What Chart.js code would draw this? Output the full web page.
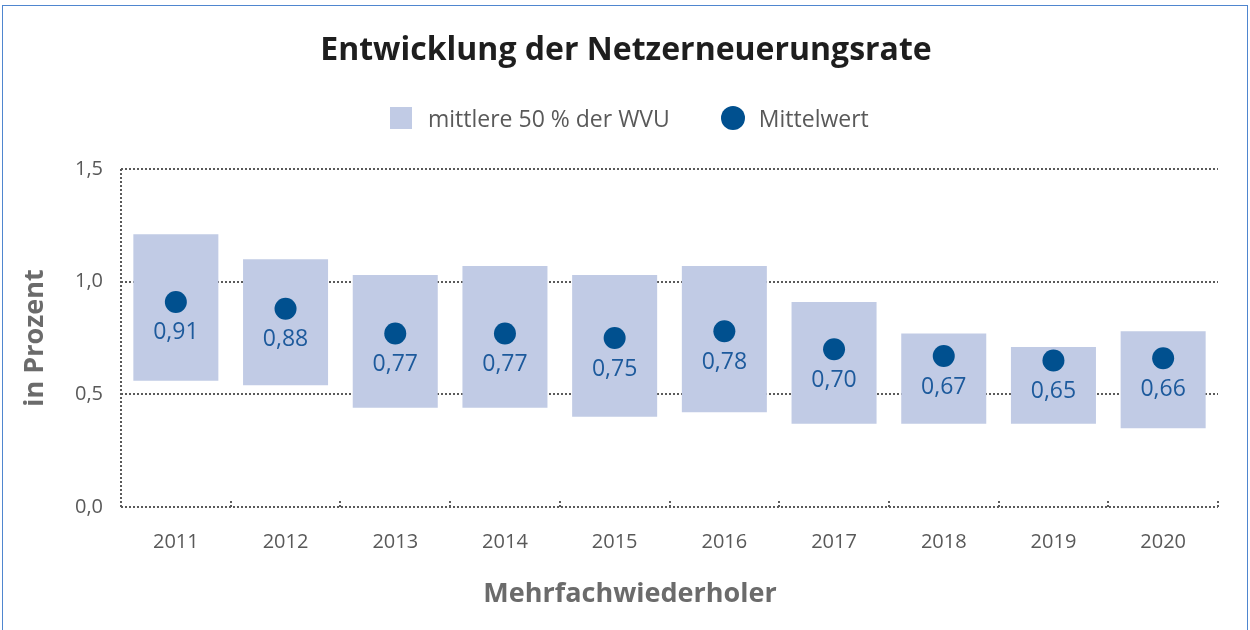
<!DOCTYPE html>
<html lang="de">
<head>
<meta charset="utf-8">
<title>Entwicklung der Netzerneuerungsrate</title>
<script src="https://cdn.jsdelivr.net/npm/chart.js@4/dist/chart.umd.min.js"></script>
<style>
  html, body { margin: 0; padding: 0; background: #fff; }
  #wrap { position: relative; width: 1250px; height: 630px; overflow: hidden; font-family: "Open Sans", sans-serif; }
  #frame { position: absolute; left: 2px; top: 5px; width: 1246px; height: 700px; border: 1px solid #4f86cf; box-sizing: border-box; pointer-events: none; }
  #title { position: absolute; left: 0; top: 28px; width: 1252px; line-height: 40px; text-align: center; font-size: 32px; font-weight: bold; color: #1e1e1e; }
  #xtitle { position: absolute; left: 0; top: 575px; width: 1260px; line-height: 34px; text-align: center; font-size: 27px; font-weight: bold; color: #6b6b6b; }
  #legend { position: absolute; left: 390px; top: 103px; height: 30px; line-height: 30px; display: flex; align-items: center; font-size: 23px; color: #595959; }
  #legend .box { width: 22px; height: 22px; background: #c1cbe5; margin-right: 16px; }
  #legend .dot { width: 24px; height: 24px; border-radius: 50%; background: #00508f; margin-left: 51px; margin-right: 14px; }
</style>
</head>
<body>
<div id="wrap">
  <canvas id="chart" width="1250" height="630"></canvas>
  <div id="title">Entwicklung der Netzerneuerungsrate</div>
  <div id="legend">
    <span class="box"></span><span class="lbl">mittlere 50 % der WVU</span>
    <span class="dot"></span><span class="lbl">Mittelwert</span>
  </div>
  <div id="xtitle">Mehrfachwiederholer</div>
  <div id="frame"></div>
</div>
<script>
const years = ["2011", "2012", "2013", "2014", "2015", "2016", "2017", "2018", "2019", "2020"];
// untere / obere Grenze der mittleren 50 %
const lower = [0.56, 0.54, 0.44, 0.44, 0.40, 0.42, 0.37, 0.37, 0.37, 0.35];
const upper = [1.21, 1.10, 1.03, 1.07, 1.03, 1.07, 0.91, 0.77, 0.71, 0.78];
const means = [0.91, 0.88, 0.77, 0.77, 0.75, 0.78, 0.70, 0.67, 0.65, 0.66];

const gridGray = "#5a5a5a";
const dotDash = [2, 2];

const fmt = (v) => v.toFixed(2).replace(".", ",");

// Werte unter den Punkten
const meanLabels = {
  id: "meanLabels",
  afterDatasetsDraw(chart) {
    const ctx = chart.ctx;
    const meta = chart.getDatasetMeta(1);
    ctx.save();
    ctx.font = '23px "Open Sans"';
    ctx.fillStyle = "#1d5a9c";
    ctx.textAlign = "center";
    ctx.textBaseline = "middle";
    meta.data.forEach((pt, i) => {
      ctx.fillText(fmt(means[i]), pt.x, pt.y + 31);
    });
    ctx.restore();
  },
};

// kleine Trennstriche zwischen den Jahren + gepunktete y-Achse
const axisMarks = {
  id: "axisMarks",
  afterDraw(chart) {
    const ctx = chart.ctx;
    const x = chart.scales.x;
    const area = chart.chartArea;
    ctx.save();
    ctx.strokeStyle = gridGray;
    ctx.lineWidth = 2;
    ctx.setLineDash(dotDash);
    for (let i = 1; i <= years.length; i++) {
      const px = Math.round(x.getPixelForValue(i - 0.5));
      ctx.beginPath();
      ctx.moveTo(px, area.bottom);
      ctx.lineTo(px, area.bottom - 7);
      ctx.stroke();
    }
    ctx.beginPath();
    ctx.moveTo(area.left, area.top);
    ctx.lineTo(area.left, area.bottom);
    ctx.stroke();
    ctx.restore();
  },
};

const ctx = document.getElementById("chart").getContext("2d");

new Chart(ctx, {
  data: {
    labels: years,
    datasets: [
      {
        type: "bar",
        label: "mittlere 50 % der WVU",
        data: years.map((y, i) => [lower[i], upper[i]]),
        backgroundColor: "#c1cbe5",
        borderWidth: 0,
        categoryPercentage: 1,
        barPercentage: 0.775,
        order: 2,
      },
      {
        type: "line",
        label: "Mittelwert",
        data: means,
        showLine: false,
        pointRadius: 11,
        pointHoverRadius: 11,
        pointBackgroundColor: "#00508f",
        pointBorderWidth: 0,
        order: 1,
      },
    ],
  },
  options: {
    responsive: false,
    animation: false,
    layout: { padding: { left: 0, right: 32, top: 169, bottom: 0 } },
    plugins: {
      legend: { display: false },
      tooltip: { enabled: false },
      title: { display: false },
    },
    scales: {
      x: {
        grid: { display: false },
        border: { display: false },
        ticks: {
          color: "#595959",
          padding: 15,
          font: { family: "Open Sans", size: 20 },
        },
        afterFit(scale) {
          scale.height = 123;
        },
      },
      y: {
        min: 0,
        max: 1.5,
        ticks: {
          stepSize: 0.5,
          color: "#595959",
          padding: 18,
          font: { family: "Open Sans", size: 20 },
          callback: (v) => v.toFixed(1).replace(".", ","),
        },
        grid: {
          color: gridGray,
          lineWidth: 2,
          drawTicks: false,
        },
        border: { display: false, dash: dotDash },
        title: {
          display: true,
          text: "in Prozent",
          color: "#6b6b6b",
          font: { family: "Open Sans", size: 27, weight: "bold" },
          padding: { top: 19, bottom: 0 },
        },
        afterFit(scale) {
          scale.width = 121;
        },
      },
    },
  },
  plugins: [meanLabels, axisMarks],
});
</script>
</body>
</html>
